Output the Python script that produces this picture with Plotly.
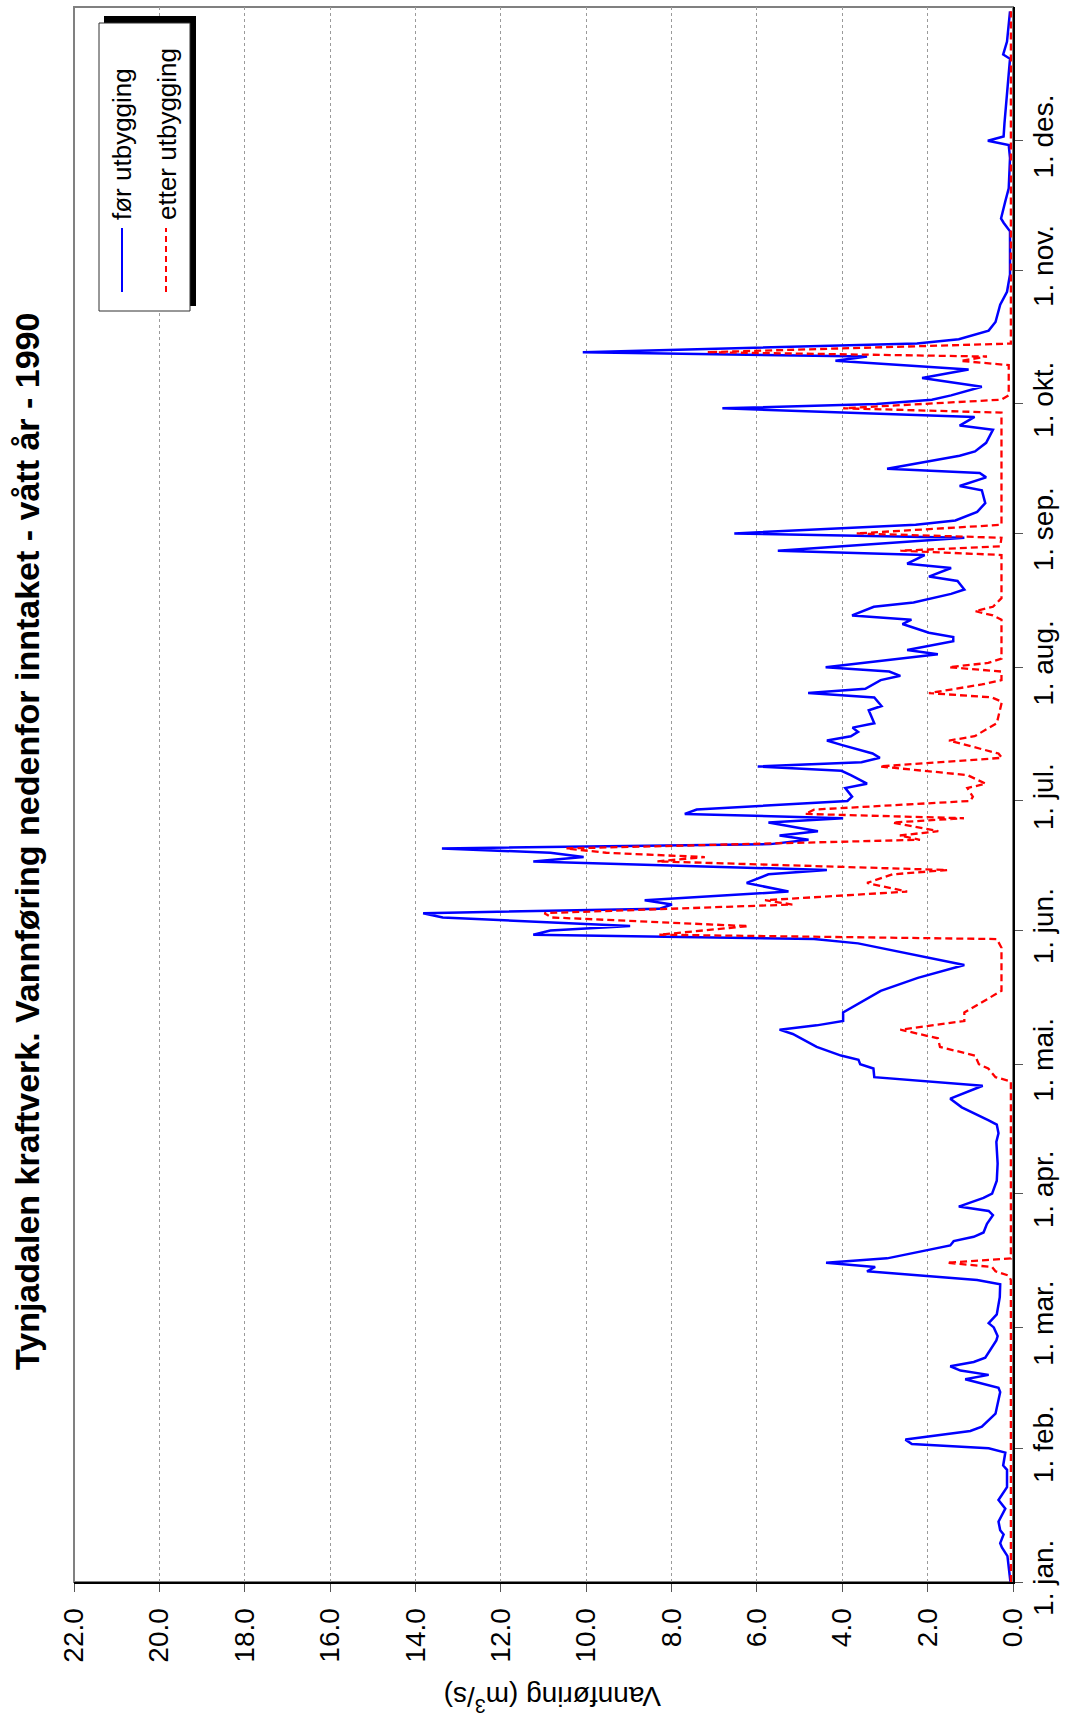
import pandas as pd
import plotly.graph_objects as go

# ---------------- data (day of year 1990, 0 = 1. jan.) ----------------
foer_days = [0, 2, 6, 8, 9, 11, 12, 14, 17, 19, 22, 26, 27, 30, 31, 32, 33, 35, 36, 39,
             44, 45, 47, 48, 49, 50, 51, 52, 56, 57, 59, 60, 62, 66, 69, 70, 72, 73, 74, 75,
             77, 78, 79, 80, 81, 83, 85, 86, 87, 89, 90, 93, 97, 102, 104, 106, 107, 110, 112, 115,
             117, 119, 120, 121, 122, 124, 127, 128, 129, 130, 132, 137, 140, 143, 148, 149, 150, 151, 152, 154,
             155, 156, 157, 158, 160, 162, 164, 165, 167, 168, 169, 170, 171, 172, 173, 174, 176, 177, 178, 179,
             181, 182, 184, 185, 187, 188, 189, 190, 191, 192, 194, 195, 196, 197, 198, 199, 202, 203, 205, 206,
             207, 209, 210, 211, 212, 215, 216, 218, 219, 220, 222, 223, 224, 226, 227, 229, 230, 232, 233, 235,
             236, 238, 239, 242, 243, 245, 246, 248, 250, 253, 254, 256, 257, 258, 261, 262, 264, 267, 268, 270,
             272, 273, 274, 275, 277, 279, 281, 283, 284, 285, 287, 288, 290, 292, 296, 299, 303, 310, 313, 315,
             316, 320, 323, 330, 333, 334, 335, 338, 346, 353, 354, 357, 364]
foer_values = [0.06, 0.08, 0.13, 0.26, 0.30, 0.22, 0.30, 0.34, 0.18, 0.34, 0.14, 0.14, 0.23, 0.18, 0.57, 2.37, 2.52, 1.00, 0.73, 0.41,
               0.30, 0.34, 1.12, 0.57, 1.23, 1.47, 0.92, 0.65, 0.39, 0.36, 0.45, 0.57, 0.38, 0.31, 0.30, 0.84, 3.42, 3.23, 4.38, 2.95,
               1.98, 1.47, 1.39, 0.92, 0.69, 0.61, 0.47, 0.57, 1.27, 0.69, 0.49, 0.38, 0.36, 0.39, 0.34, 0.38, 0.57, 1.20, 1.47, 0.71,
               3.25, 3.27, 3.58, 3.62, 4.03, 4.60, 5.16, 5.47, 4.60, 3.98, 3.98, 3.10, 2.23, 1.14, 3.63, 4.66, 11.24, 10.84, 8.97, 13.36,
               13.82, 8.29, 7.99, 8.63, 5.26, 6.24, 5.73, 4.36, 11.24, 10.06, 10.84, 13.38, 5.68, 4.79, 5.47, 4.57, 5.73, 3.98, 7.69, 7.41,
               3.88, 3.77, 3.93, 3.42, 3.80, 4.02, 5.98, 3.55, 3.12, 3.29, 4.02, 4.36, 3.80, 3.63, 3.76, 3.25, 3.38, 3.08, 3.25, 4.80,
               3.46, 3.10, 2.64, 2.90, 4.39, 1.76, 2.48, 1.40, 1.40, 1.97, 2.59, 2.38, 3.77, 3.26, 2.33, 1.45, 1.14, 1.30, 1.97, 1.45,
               2.48, 2.07, 5.51, 1.14, 6.53, 2.28, 1.35, 0.84, 0.65, 0.73, 1.25, 0.63, 0.78, 2.95, 1.25, 0.89, 0.63, 0.47, 1.25, 0.90,
               6.81, 3.20, 1.90, 1.45, 0.73, 2.13, 1.04, 4.16, 3.42, 10.08, 2.25, 1.27, 0.57, 0.41, 0.30, 0.14, 0.07, 0.06, 0.07, 0.22,
               0.28, 0.18, 0.10, 0.07, 0.10, 0.59, 0.22, 0.20, 0.14, 0.07, 0.23, 0.14, 0.07]

etter_days = [0, 70, 71, 72, 73, 74, 75, 116, 117, 119, 120, 122, 124, 126, 128, 130, 132, 137, 147, 149,
              150, 151, 152, 154, 155, 157, 158, 160, 162, 164, 165, 167, 168, 169, 170, 172, 173, 174, 176, 177,
              178, 179, 181, 182, 184, 185, 187, 189, 191, 192, 195, 196, 199, 204, 205, 206, 208, 209, 211, 212,
              213, 214, 223, 224, 225, 226, 228, 238, 239, 240, 242, 243, 245, 271, 272, 274, 275, 282, 283, 284,
              285, 287, 364]
etter_values = [0.05, 0.05, 0.10, 0.41, 0.49, 1.55, 0.05, 0.05, 0.41, 0.58, 0.80, 0.89, 1.71, 1.76, 2.64, 1.14, 1.14, 0.27, 0.27, 0.38,
                8.29, 7.30, 6.20, 10.80, 10.98, 5.17, 5.81, 2.48, 3.42, 2.82, 1.54, 8.33, 7.22, 9.53, 10.47, 2.18, 2.65, 1.75, 2.82, 1.15,
                4.87, 4.66, 1.00, 0.94, 1.07, 0.64, 1.07, 3.12, 0.26, 0.34, 1.50, 0.90, 0.38, 0.26, 0.50, 1.97, 0.73, 0.27, 0.27, 1.50,
                0.58, 0.27, 0.27, 0.47, 0.89, 0.47, 0.27, 0.27, 2.64, 0.30, 0.27, 3.67, 0.27, 0.27, 3.98, 0.27, 0.10, 0.10, 1.23, 0.61,
                7.17, 0.05, 0.05]

month_labels = ["1. jan.", "1. feb.", "1. mar.", "1. apr.", "1. mai.", "1. jun.",
                "1. jul.", "1. aug.", "1. sep.", "1. okt.", "1. nov.", "1. des."]
value_ticks = [0, 2, 4, 6, 8, 10, 12, 14, 16, 18, 20, 22]

series_names = ["før utbygging", "etter utbygging"]
title_text = "Tynjadalen kraftverk. Vannføring nedenfor inntaket - vått år - 1990"
axis_title = "Vannføring (m<sup>3</sup>/s)"

# ---------------- build ----------------
start = pd.Timestamp("1990-01-01")
foer_dates = start + pd.to_timedelta(foer_days, unit="D")
etter_dates = start + pd.to_timedelta(etter_days, unit="D")
month_starts = pd.date_range("1990-01-01", "1990-12-01", freq="MS")
year_end = pd.Timestamp("1991-01-01")

W, H = 1068, 1722
L, R, T, B = 74, 55, 7, 140
PW, PH = W - L - R, H - T - B


def px(x):
    return (x - L) / PW


def py(y):
    return 1 - (y - T) / PH


FONT = "Liberation Sans, Arial, sans-serif"

fig = go.Figure()
fig.add_trace(go.Scatter(x=foer_values, y=foer_dates, mode="lines", name=series_names[0],
                         line=dict(color="#0000FF", width=2.5), showlegend=False))
fig.add_trace(go.Scatter(x=etter_values, y=etter_dates, mode="lines", name=series_names[1],
                         line=dict(color="#FF0000", width=2.3, dash="7px,4px"), showlegend=False))

fig.update_layout(
    width=W, height=H, autosize=False,
    margin=dict(l=L, r=R, t=T, b=B, pad=0, autoexpand=False),
    paper_bgcolor="white", plot_bgcolor="white",
    font=dict(family=FONT, color="black"),
    xaxis=dict(range=[22, 0], tickvals=value_ticks, ticktext=[f"{v:.1f}" for v in value_ticks],
               tickangle=-90, ticks="outside", ticklen=8, tickcolor="#555", tickwidth=1,
               showgrid=True, gridcolor="#9a9a9a", gridwidth=1, griddash="dot",
               zeroline=False, showline=True, linecolor="black", linewidth=2, automargin=False,
               tickfont=dict(size=28, family=FONT), ticklabelstandoff=5, fixedrange=True),
    yaxis=dict(type="date", side="right", range=[start, year_end],
               tickvals=list(month_starts), ticktext=month_labels,
               tickangle=-90, ticks="outside", ticklen=8, tickcolor="#555", tickwidth=1,
               showgrid=False, zeroline=False, showline=True, linecolor="black", linewidth=2,
               automargin=False,
               tickfont=dict(size=28, family=FONT), ticklabelstandoff=-4, fixedrange=True),
)

shapes = [
    # plot frame
    dict(type="rect", xref="paper", yref="paper", x0=0, x1=1, y0=0, y1=1,
         line=dict(color="#808080", width=2), layer="below"),
    # legend shadow
    dict(type="rect", xref="paper", yref="paper", x0=px(104), x1=px(196), y0=py(306), y1=py(16),
         fillcolor="black", line=dict(width=0)),
    # legend box
    dict(type="rect", xref="paper", yref="paper", x0=px(99), x1=px(190), y0=py(311), y1=py(23),
         fillcolor="white", line=dict(color="#303030", width=1)),
    # legend samples
    dict(type="line", xref="paper", yref="paper", x0=px(122), x1=px(122), y0=py(292), y1=py(228),
         line=dict(color="#0000FF", width=2)),
    dict(type="line", xref="paper", yref="paper", x0=px(166), x1=px(166), y0=py(292), y1=py(228),
         line=dict(color="#FF0000", width=2, dash="6px,4px")),
]

annotations = [
    dict(text=f"<b>{title_text}</b>", xref="paper", yref="paper", x=px(27), y=py(842),
         xanchor="center", yanchor="middle", textangle=-90, showarrow=False,
         font=dict(size=34, family=FONT, color="black")),
    dict(text=axis_title, xref="paper", yref="paper", x=px(553), y=py(1699),
         xanchor="center", yanchor="middle", textangle=180, showarrow=False,
         font=dict(size=28, family=FONT, color="black")),
    dict(text=series_names[0], xref="paper", yref="paper", x=px(122), y=py(222),
         xanchor="center", yanchor="bottom", textangle=-90, showarrow=False,
         font=dict(size=26, family=FONT, color="black")),
    dict(text=series_names[1], xref="paper", yref="paper", x=px(167), y=py(222),
         xanchor="center", yanchor="bottom", textangle=-90, showarrow=False,
         font=dict(size=26, family=FONT, color="black")),
]
fig.update_layout(shapes=shapes, annotations=annotations)

fig.write_html("out.html")
